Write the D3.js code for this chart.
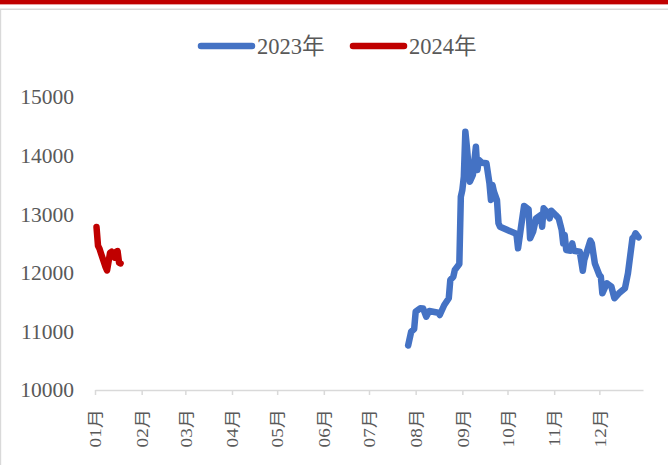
<!DOCTYPE html>
<html>
<head>
<meta charset="utf-8">
<script src="https://cdn.jsdelivr.net/npm/d3@7/dist/d3.min.js"></script>
<style>
  html, body { margin: 0; padding: 0; background: #fff; }
  svg { display: block; }
</style>
</head>
<body>
<svg id="chart" width="668" height="465"></svg>
<script>
// Series: month-day and price, plotted on a common calendar year
const dates2023 = [
  "07-27","07-29","07-31","08-01","08-04","08-06","08-08","08-10","08-16","08-17",
  "08-20","08-23","08-24","08-26","08-27","08-30","08-31","09-01","09-02","09-03",
  "09-04","09-06","09-08","09-10","09-11","09-12","09-14","09-17","09-19","09-20",
  "09-21","09-22","09-24","09-25","09-26","10-06","10-07","10-08","10-10","10-12",
  "10-15","10-16","10-18","10-20","10-23","10-24","10-25","10-27","10-29","10-30",
  "11-02","11-04","11-06","11-07","11-08","11-09","11-12","11-13","11-14","11-18",
  "11-20","11-21","11-25","11-26","11-28","12-01","12-02","12-03","12-06","12-09",
  "12-11","12-14","12-18","12-20","12-23","12-24","12-25","12-27"
];
const values2023 = [
  10760, 10995, 11040, 11336, 11394, 11390, 11251, 11348, 11319, 11280,
  11450, 11565, 11877, 11933, 12048, 12150, 13299, 13413, 13640, 14408,
  14152, 13555, 13669, 14152, 13754, 13925, 13879, 13868, 13527, 13242,
  13498, 13384, 13242, 12845, 12787, 12674, 12645, 12418, 12787, 13140,
  13084, 12589, 12701, 12930, 12986, 12787, 13101, 13043, 12930, 13060,
  12986, 12930, 12730, 12503, 12645, 12389, 12377, 12503, 12377, 12360,
  12036, 12218, 12548, 12503, 12162, 11962, 11933, 11650, 11821, 11763,
  11565, 11650, 11735, 11991, 12589, 12616, 12674, 12606
];
const dates2024 = [
  "01-02","01-03","01-04","01-05","01-08","01-09","01-10","01-11","01-12","01-14",
  "01-15","01-16","01-17","01-18"
];
const values2024 = [
  12780, 12460, 12410, 12330, 12100, 12040, 12190, 12340, 12360, 12260,
  12360, 12370, 12170, 12160
];
const seriesNames = ["2023年", "2024年"];
const seriesColors = ["#4472C4", "#C00000"];
const yTicks = [10000, 11000, 12000, 13000, 14000, 15000];
const monthLabels = ["01月","02月","03月","04月","05月","06月","07月","08月","09月","10月","11月","12月"];

const parse = d3.timeParse("%Y-%m-%d");
const toDate = md => parse("2024-" + md);

const svg = d3.select("#chart");
const W = 668, H = 465;
const plot = { left: 95, right: 643, top: 97, bottom: 390 };

// frame decoration
svg.append("rect").attr("x", 0).attr("y", 0).attr("width", W).attr("height", 4).attr("fill", "#C00000");
svg.append("rect").attr("x", 0).attr("y", 4).attr("width", W).attr("height", 1).attr("fill", "#e8a0a0");
svg.append("rect").attr("x", 0).attr("y", 8.5).attr("width", W).attr("height", 1.5).attr("fill", "#d9d9d9");
svg.append("rect").attr("x", 0).attr("y", 9).attr("width", 1.2).attr("height", H - 9).attr("fill", "#d9d9d9");

const x = d3.scaleTime()
  .domain([toDate("01-01"), toDate("12-30")])
  .range([plot.left, plot.right]);
const y = d3.scaleLinear().domain([10000, 15000]).range([plot.bottom, plot.top]);

const serif = "'Liberation Serif', 'Times New Roman', 'Noto Sans CJK SC', serif";

// y labels (no axis line)
svg.append("g").selectAll("text").data(yTicks).join("text")
  .attr("x", 74).attr("y", d => y(d)).attr("dy", "0.34em")
  .attr("text-anchor", "end")
  .attr("font-family", serif).attr("font-size", 21.5).attr("fill", "#595959")
  .text(d => d);

// x axis
const monthStarts = d3.range(12).map(m => new Date(2024, m, 1));
const xAxis = d3.axisBottom(x).tickValues(monthStarts).tickSize(5).tickSizeOuter(0)
  .tickFormat((d, i) => monthLabels[i]);
const gx = svg.append("g").attr("transform", `translate(0,${plot.bottom})`).call(xAxis);
gx.select(".domain").attr("stroke", "#d9d9d9").attr("stroke-width", 1.5);
gx.selectAll(".tick line").attr("stroke", "#d9d9d9").attr("stroke-width", 1.5);
gx.selectAll(".tick text")
  .attr("font-family", serif).attr("font-size", 16).attr("fill", "#595959")
  .attr("text-anchor", "end")
  .attr("y", 0).attr("dy", "0.36em")
  .attr("transform", "translate(0,19) rotate(-90) scale(1.2,1)");

// lines
const line = d3.line().x(d => x(d.date)).y(d => y(d.value));
const s2023 = dates2023.map((d, i) => ({ date: toDate(d), value: values2023[i] }));
const s2024 = dates2024.map((d, i) => ({ date: toDate(d), value: values2024[i] }));
[s2023, s2024].forEach((s, i) => {
  svg.append("path").datum(s)
    .attr("d", line)
    .attr("fill", "none")
    .attr("stroke", seriesColors[i])
    .attr("stroke-width", 6.5)
    .attr("stroke-linejoin", "round")
    .attr("stroke-linecap", "round");
});

// legend
const legendX = [201, 353];
seriesNames.forEach((name, i) => {
  const g = svg.append("g").attr("transform", `translate(${legendX[i]},0)`);
  g.append("line").attr("x1", 0).attr("x2", 51).attr("y1", 46).attr("y2", 46)
    .attr("stroke", seriesColors[i]).attr("stroke-width", 6.5).attr("stroke-linecap", "round");
  g.append("text")
    .attr("x", 56).attr("y", 54)
    .attr("font-family", serif).attr("font-size", 22.5).attr("fill", "#595959")
    .text(name);
});
</script>
</body>
</html>
